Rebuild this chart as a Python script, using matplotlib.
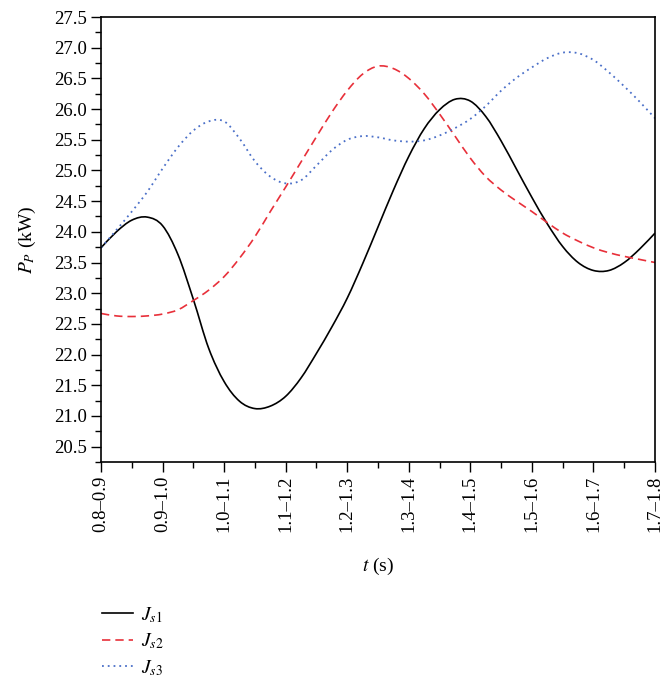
import numpy as np
import matplotlib
matplotlib.use("Agg")
import matplotlib.pyplot as plt
from matplotlib.ticker import MultipleLocator, FormatStrFormatter
from matplotlib.path import Path
from matplotlib.patches import PathPatch
from matplotlib.lines import Line2D

plt.rcParams['font.family'] = ['Liberation Serif', 'DejaVu Serif']
plt.rcParams['mathtext.fontset'] = 'stix'

# time-window categories
categories = ["0.8–0.9", "0.9–1.0", "1.0–1.1", "1.1–1.2", "1.2–1.3",
              "1.3–1.4", "1.4–1.5", "1.5–1.6", "1.6–1.7", "1.7–1.8"]

# sample positions in category units (quarter steps)
t_pos = np.arange(37) / 4.0

js1 = [23.74, 24.00, 24.19, 24.24, 24.10, 23.63, 22.90, 22.10, 21.56, 21.24,
       21.12, 21.16, 21.32, 21.62, 22.02, 22.45, 22.92, 23.48, 24.08, 24.68,
       25.23, 25.68, 25.99, 26.16, 26.13, 25.88, 25.48, 25.02, 24.56, 24.13,
       23.76, 23.50, 23.37, 23.37, 23.50, 23.72, 23.98]

js2 = [22.67, 22.63, 22.62, 22.63, 22.66, 22.73, 22.88, 23.05, 23.27, 23.57,
       23.92, 24.33, 24.73, 25.14, 25.55, 25.95, 26.30, 26.57, 26.70, 26.66,
       26.50, 26.25, 25.92, 25.56, 25.20, 24.90, 24.68, 24.50, 24.33, 24.15,
       23.98, 23.85, 23.74, 23.66, 23.60, 23.55, 23.50]

js3 = [23.74, 24.03, 24.33, 24.65, 25.03, 25.38, 25.65, 25.80, 25.80, 25.52,
       25.15, 24.90, 24.79, 24.84, 25.08, 25.33, 25.50, 25.56, 25.54, 25.49,
       25.47, 25.49, 25.57, 25.69, 25.84, 26.05, 26.30, 26.51, 26.68, 26.83,
       26.92, 26.91, 26.80, 26.60, 26.37, 26.12, 25.85]


def smooth_path(x, y):
    # cubic bezier pieces through the points (Catmull-Rom style)
    p = np.column_stack([x, y])
    ext = np.vstack([p[0], p, p[-1]])
    verts = [p[0]]
    codes = [Path.MOVETO]
    for i in range(len(p) - 1):
        a, b, c, d = ext[i], ext[i + 1], ext[i + 2], ext[i + 3]
        verts += [b + (c - a) / 6.0, c - (d - b) / 6.0, c]
        codes += [Path.CURVE4] * 3
    return Path(verts, codes)


fig = plt.figure(figsize=(6.61, 6.84), dpi=100)
ax = fig.add_axes([0.1528, 0.3246, 0.8382, 0.6505])

series = [
    (js1, "black", 1.2, "-", r"$J_{s1}$"),
    (js2, "#e8303a", 1.2, (0, (5, 3)), r"$J_{s2}$"),
    (js3, "#4a6fc8", 1.3, (0, (1, 2.2)), r"$J_{s3}$"),
]
handles = []
for vals, col, lw, ls, lab in series:
    ax.add_patch(PathPatch(smooth_path(t_pos, vals), fill=False,
                           edgecolor=col, lw=lw, linestyle=ls))
    handles.append(Line2D([], [], color=col, lw=lw, ls=ls, label=lab))

ax.set_xlim(0, 9)
ax.set_ylim(20.25, 27.5)
ax.set_xticks(range(len(categories)))
ax.set_xticklabels(categories, rotation=90)
ax.xaxis.set_minor_locator(MultipleLocator(0.5))
ax.set_yticks(np.arange(20.5, 27.51, 0.5))
ax.yaxis.set_minor_locator(MultipleLocator(0.25))
ax.yaxis.set_major_formatter(FormatStrFormatter('%.1f'))
ax.tick_params(which="both", direction="out", top=False, right=False,
               labelsize=13.5, width=1)
ax.tick_params(which="major", length=7, pad=3)
ax.tick_params(which="minor", length=4)
for s in ax.spines.values():
    s.set_linewidth(1.2)

ax.set_xlabel(r"$t$ (s)", fontsize=14, labelpad=17)
ax.set_ylabel(r"$P_P$ (kW)", fontsize=14, labelpad=12)

fig.legend(handles=handles, loc="upper left", bbox_to_anchor=(0.14, 0.13),
           frameon=False, fontsize=14, handlelength=1.6, handletextpad=0.4,
           labelspacing=0.35, borderpad=0)

fig.savefig("out.png", dpi=100)
